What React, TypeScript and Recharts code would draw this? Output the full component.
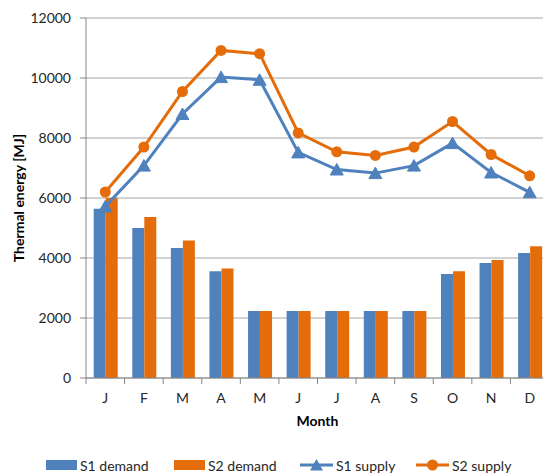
import { ComposedChart, Bar, Line, XAxis, YAxis, CartesianGrid } from "recharts";

const months = ["J", "F", "M", "A", "M", "J", "J", "A", "S", "O", "N", "D"];
const s1Demand = [5640, 5000, 4330, 3560, 2230, 2230, 2230, 2230, 2230, 3470, 3835, 4170];
const s2Demand = [6000, 5370, 4580, 3650, 2230, 2230, 2230, 2230, 2230, 3560, 3935, 4390];
const s1Supply = [5720, 7080, 8800, 10030, 9940, 7520, 6950, 6830, 7080, 7830, 6850, 6190];
const s2Supply = [6200, 7700, 9550, 10920, 10810, 8170, 7540, 7420, 7700, 8550, 7450, 6740];
const yTicks = [0, 2000, 4000, 6000, 8000, 10000, 12000];

const BLUE = "#4f81bd";
const ORANGE = "#e46c0a";
const AXIS = "#868686";
const FONT = "Lato, 'Open Sans', sans-serif";

const data = months.map((m, i) => ({
  month: m,
  s1d: s1Demand[i],
  s2d: s2Demand[i],
  s1s: s1Supply[i],
  s2s: s2Supply[i],
}));

const W = 560;
const H = 475;
const PLOT_LEFT = 86;
const PLOT_RIGHT = 549;
const STEP = (PLOT_RIGHT - PLOT_LEFT) / months.length;

function Triangle(props: any) {
  const { cx, cy } = props;
  if (cx == null || cy == null) return null;
  return (
    <path
      d={`M${cx},${cy - 6} L${cx + 6.5},${cy + 5.5} L${cx - 6.5},${cy + 5.5} Z`}
      fill={BLUE}
      stroke={BLUE}
      strokeWidth={1}
    />
  );
}

function MonthTick(props: any) {
  const { x, y, payload, index } = props;
  const axisY = y - 8;
  const left = x - STEP / 2;
  return (
    <g>
      <line x1={left} x2={left} y1={axisY} y2={axisY + 6} stroke={AXIS} />
      {index === months.length - 1 && (
        <line x1={x + STEP / 2} x2={x + STEP / 2} y1={axisY} y2={axisY + 6} stroke={AXIS} />
      )}
      <text x={x} y={y + 17} textAnchor="middle" fontSize={14} fill="#262626" fontFamily={FONT}>
        {payload.value}
      </text>
    </g>
  );
}

function YTitle() {
  return (
    <text
      x={18}
      y={198}
      transform="rotate(-90 18 198)"
      textAnchor="middle"
      dominantBaseline="central"
      fontSize={14}
      fontWeight="bold"
      fill="#000"
      fontFamily={FONT}
    >
      Thermal energy [MJ]
    </text>
  );
}

function LegendIcon({ kind, color }: { kind: string; color: string }) {
  if (kind === "bar") {
    return (
      <svg width={31} height={10} style={{ marginRight: 3 }}>
        <rect x={0} y={0} width={31} height={10} fill={color} />
      </svg>
    );
  }
  return (
    <svg width={33} height={12} style={{ marginRight: 3 }}>
      <line x1={0} x2={33} y1={6} y2={6} stroke={color} strokeWidth={3} />
      {kind === "tri" ? (
        <path d="M16.5,0 L23,11.5 L10,11.5 Z" fill={color} />
      ) : (
        <circle cx={16.5} cy={6} r={5.5} fill={color} />
      )}
    </svg>
  );
}

const legendItems = [
  { label: "S1 demand", kind: "bar", color: BLUE, left: 46 },
  { label: "S2 demand", kind: "bar", color: ORANGE, left: 174 },
  { label: "S1 supply", kind: "tri", color: BLUE, left: 300 },
  { label: "S2 supply", kind: "circle", color: ORANGE, left: 416 },
];

export default function App() {
  return (
    <div
      style={{
        position: "absolute",
        left: 0,
        top: 0,
        width: 543,
        height: 475,
        overflow: "hidden",
        background: "#fff",
        fontFamily: FONT,
      }}
    >
      <ComposedChart
        width={W}
        height={H}
        data={data}
        margin={{ top: 18, right: W - PLOT_RIGHT, left: 0, bottom: 47 }}
        barCategoryGap="20%"
        barGap={0}
      >
        <CartesianGrid vertical={false} stroke="#a6a6a6" />
        <XAxis
          dataKey="month"
          height={50}
          interval={0}
          axisLine={{ stroke: AXIS }}
          tickLine={false}
          tickSize={6}
          tickMargin={2}
          tick={<MonthTick />}
          label={{
            value: "Month",
            position: "insideBottom",
            offset: 2,
            fontSize: 14,
            fontWeight: "bold",
            fill: "#000",
            fontFamily: FONT,
          }}
        />
        <YAxis
          width={PLOT_LEFT}
          domain={[0, 12000]}
          ticks={yTicks}
          interval={0}
          axisLine={{ stroke: AXIS }}
          tickLine={{ stroke: AXIS }}
          tickSize={6}
          tickMargin={9}
          tick={{ fontSize: 14, fill: "#262626", fontFamily: FONT }}
          label={{ content: () => <YTitle /> }}
        />
        <Bar dataKey="s1d" name="S1 demand" fill={BLUE} isAnimationActive={false} />
        <Bar dataKey="s2d" name="S2 demand" fill={ORANGE} isAnimationActive={false} />
        <Line
          dataKey="s1s"
          name="S1 supply"
          stroke={BLUE}
          strokeWidth={3}
          dot={<Triangle />}
          activeDot={false}
          isAnimationActive={false}
        />
        <Line
          dataKey="s2s"
          name="S2 supply"
          stroke={ORANGE}
          strokeWidth={3}
          dot={{ r: 5.5, fill: ORANGE, stroke: ORANGE, strokeWidth: 0 }}
          activeDot={false}
          isAnimationActive={false}
        />
      </ComposedChart>
      {legendItems.map((it) => (
        <div
          key={it.label}
          style={{
            position: "absolute",
            left: it.left,
            top: 456,
            height: 18,
            display: "flex",
            alignItems: "center",
            fontSize: 14,
            color: "#262626",
            whiteSpace: "nowrap",
          }}
        >
          <LegendIcon kind={it.kind} color={it.color} />
          {it.label}
        </div>
      ))}
    </div>
  );
}
